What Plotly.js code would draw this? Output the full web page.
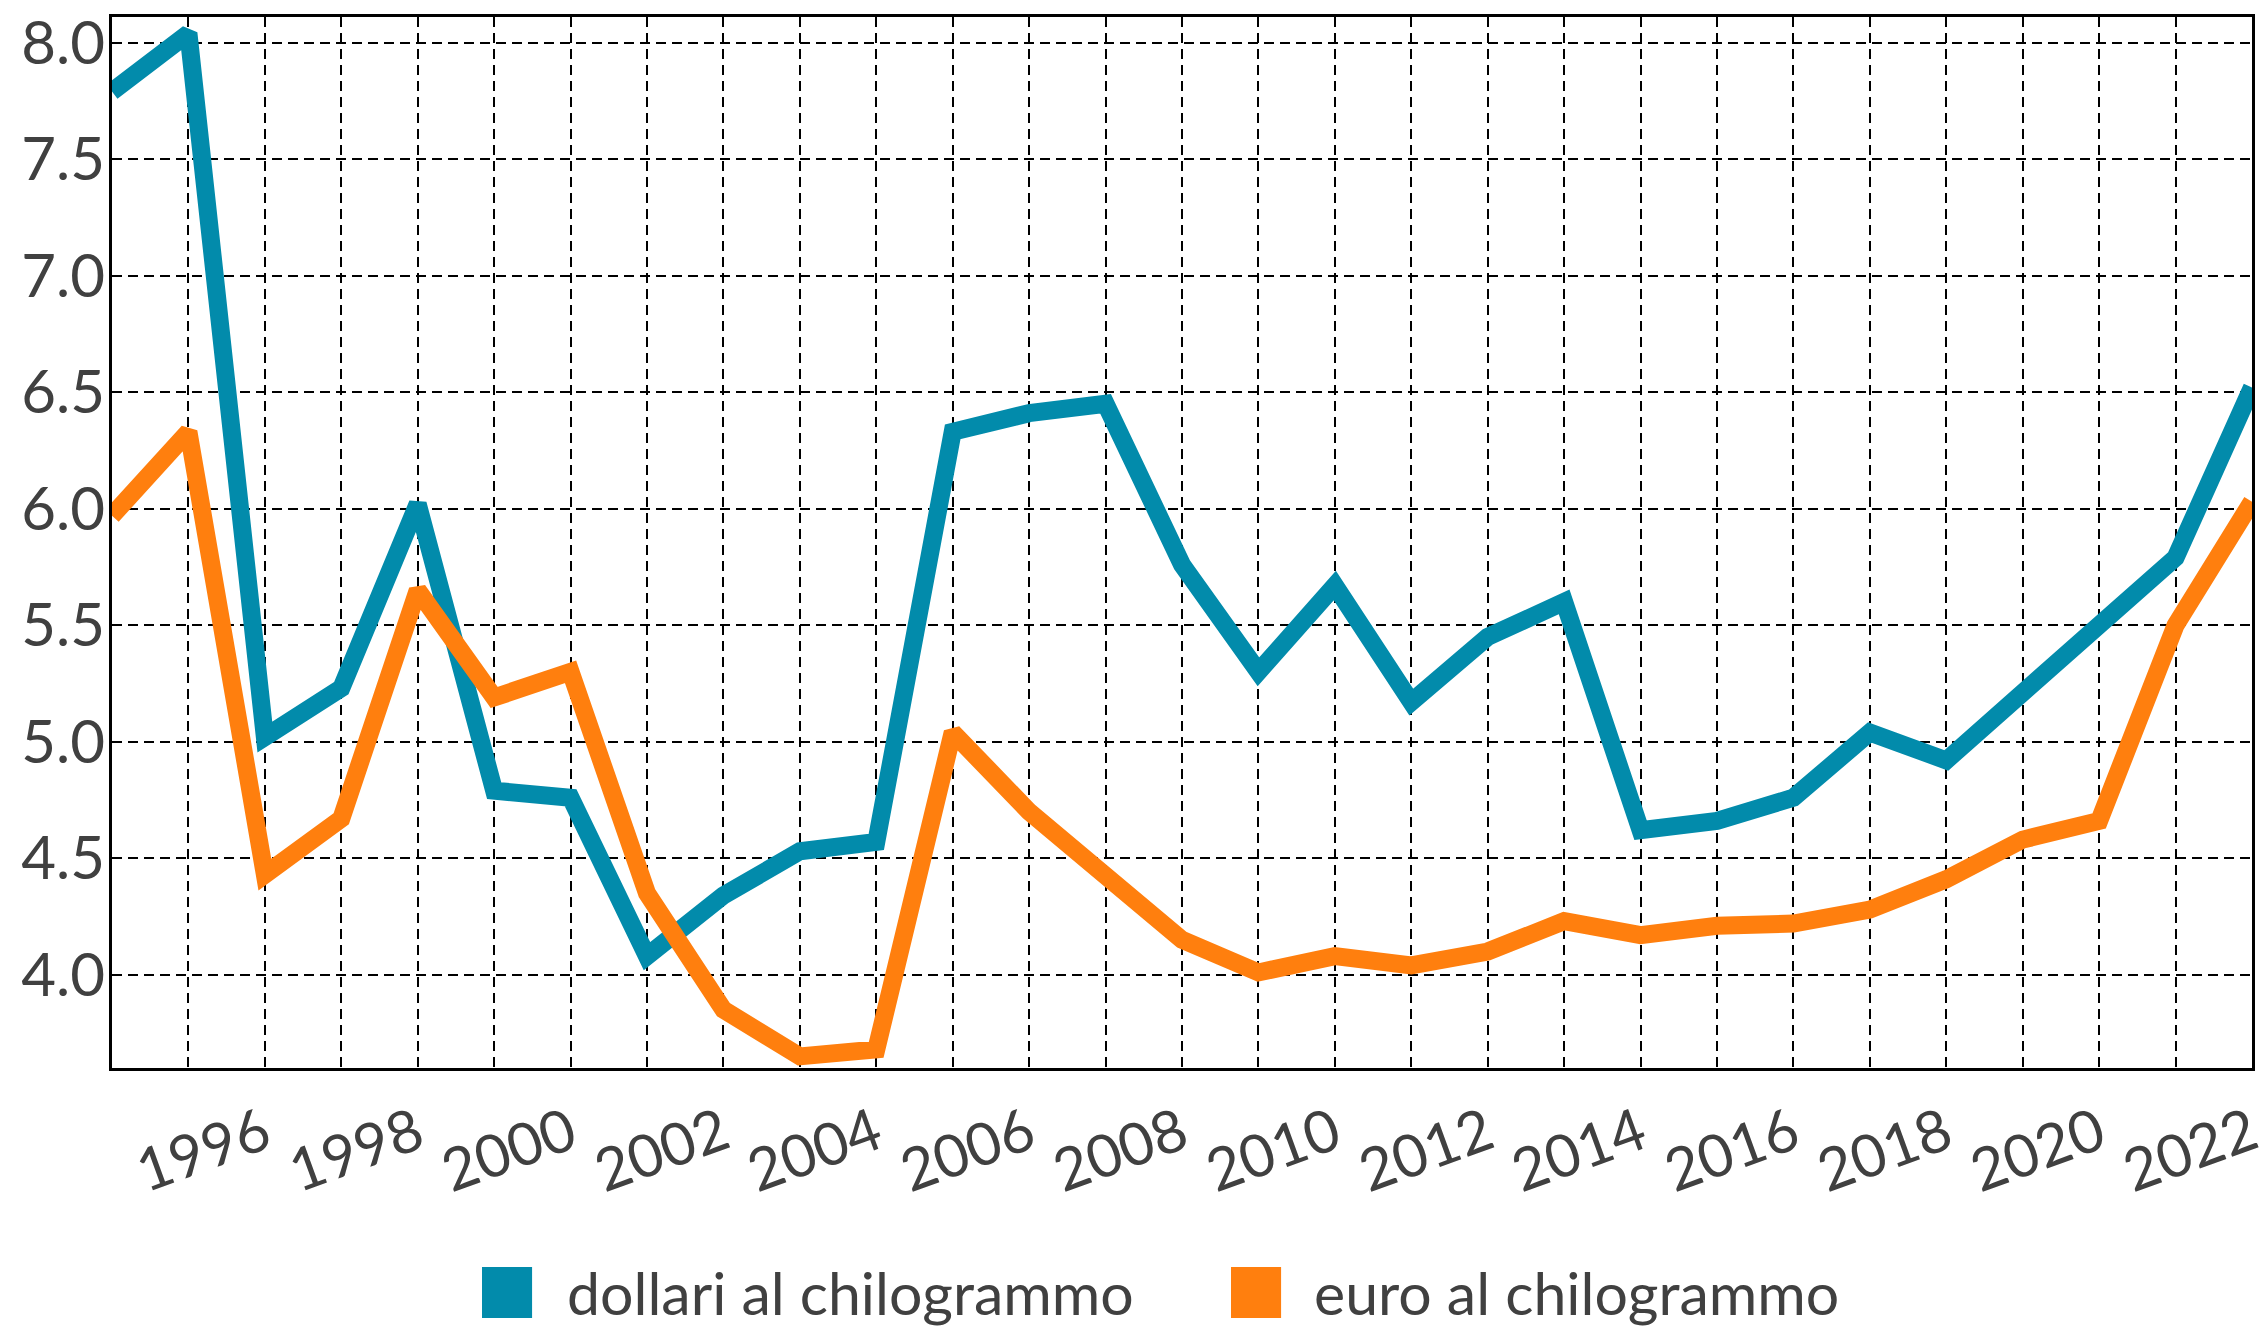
<!DOCTYPE html>
<html>
<head>
<meta charset="utf-8">
<script src="https://cdn.plot.ly/plotly-3.0.1.min.js"></script>
<style>html,body{margin:0;padding:0;background:#fff;}</style>
</head>
<body>
<div id="chart" style="width:2265px;height:1329px;"></div>
<script>
// ---- data ----
const years = [1995,1996,1997,1998,1999,2000,2001,2002,2003,2004,2005,2006,2007,2008,2009,
               2010,2011,2012,2013,2014,2015,2016,2017,2018,2019,2020,2021,2022,2023];
const dollari = [7.79,8.04,5.02,5.23,6.02,4.79,4.76,4.08,4.34,4.53,4.57,6.33,6.41,6.45,5.76,
                 5.30,5.67,5.17,5.45,5.60,4.62,4.66,4.76,5.04,4.92,5.21,5.52,5.79,6.52];
const euro = [5.97,6.33,4.43,4.67,5.65,5.19,5.30,4.35,3.85,3.65,3.68,5.04,4.70,4.43,4.15,
              4.01,4.08,4.04,4.10,4.23,4.17,4.21,4.22,4.28,4.41,4.58,4.66,5.50,6.03];
const seriesNames = ['dollari al chilogrammo', 'euro al chilogrammo'];
const xTickLabels = years.map(y => (y % 2 === 0 ? String(y) : ''));
const yTickValues = [4.0, 4.5, 5.0, 5.5, 6.0, 6.5, 7.0, 7.5, 8.0];

// ---- styles ----
const colors = ['#028bab', '#ff7f0e'];
const textColor = '#404040';
const fontFamily = 'Lato, "Open Sans", sans-serif';
const xRange = [1995, 2023];
const yRange = [3.6, 8.11];

const traces = [
  {x: years, y: dollari, name: seriesNames[0], type: 'scatter', mode: 'lines',
   line: {color: colors[0], width: 18}, showlegend: false},
  {x: years, y: euro, name: seriesNames[1], type: 'scatter', mode: 'lines',
   line: {color: colors[1], width: 18}, showlegend: false}
];

const gridStyle = {showgrid: true, gridcolor: '#000000', gridwidth: 2, griddash: '10px,6px'};

const layout = {
  width: 2265, height: 1329,
  margin: {l: 112, r: 13, t: 17, b: 261, pad: 0},
  paper_bgcolor: '#ffffff', plot_bgcolor: '#ffffff',
  font: {family: fontFamily, color: textColor},
  showlegend: false,
  xaxis: Object.assign({
    range: xRange, tickmode: 'array', tickvals: years, ticktext: xTickLabels,
    tickangle: -20, ticks: '',
    showline: true, mirror: true, linecolor: '#000', linewidth: 3, zeroline: false,
    tickfont: {family: fontFamily, size: 59, color: textColor},
    ticklabelshift: 76, ticklabelstandoff: 6, ticklabeloverflow: 'allow'
  }, gridStyle),
  yaxis: Object.assign({
    range: yRange, tickmode: 'array', tickvals: yTickValues, tickformat: '.1f',
    ticks: '',
    showline: true, mirror: true, linecolor: '#000', linewidth: 3, zeroline: false,
    tickfont: {family: fontFamily, size: 60, color: textColor},
    ticklabelstandoff: -8, ticklabeloverflow: 'allow'
  }, gridStyle),
  shapes: [
    {type: 'rect', xref: 'paper', yref: 'paper', x0: 0.1729, x1: 0.1963, y0: -0.2378, y1: -0.1893,
     fillcolor: colors[0], line: {width: 0}},
    {type: 'rect', xref: 'paper', yref: 'paper', x0: 0.5229, x1: 0.5463, y0: -0.2378, y1: -0.1893,
     fillcolor: colors[1], line: {width: 0}}
  ],
  annotations: [
    {text: seriesNames[0], xref: 'paper', yref: 'paper', x: 0.2117, y: -0.2135,
     xanchor: 'left', yanchor: 'middle', showarrow: false,
     font: {family: fontFamily, size: 59, color: textColor}},
    {text: seriesNames[1], xref: 'paper', yref: 'paper', x: 0.5607, y: -0.2135,
     xanchor: 'left', yanchor: 'middle', showarrow: false,
     font: {family: fontFamily, size: 59, color: textColor}}
  ]
};

Plotly.newPlot('chart', traces, layout, {displayModeBar: false, staticPlot: true});
</script>
</body>
</html>
